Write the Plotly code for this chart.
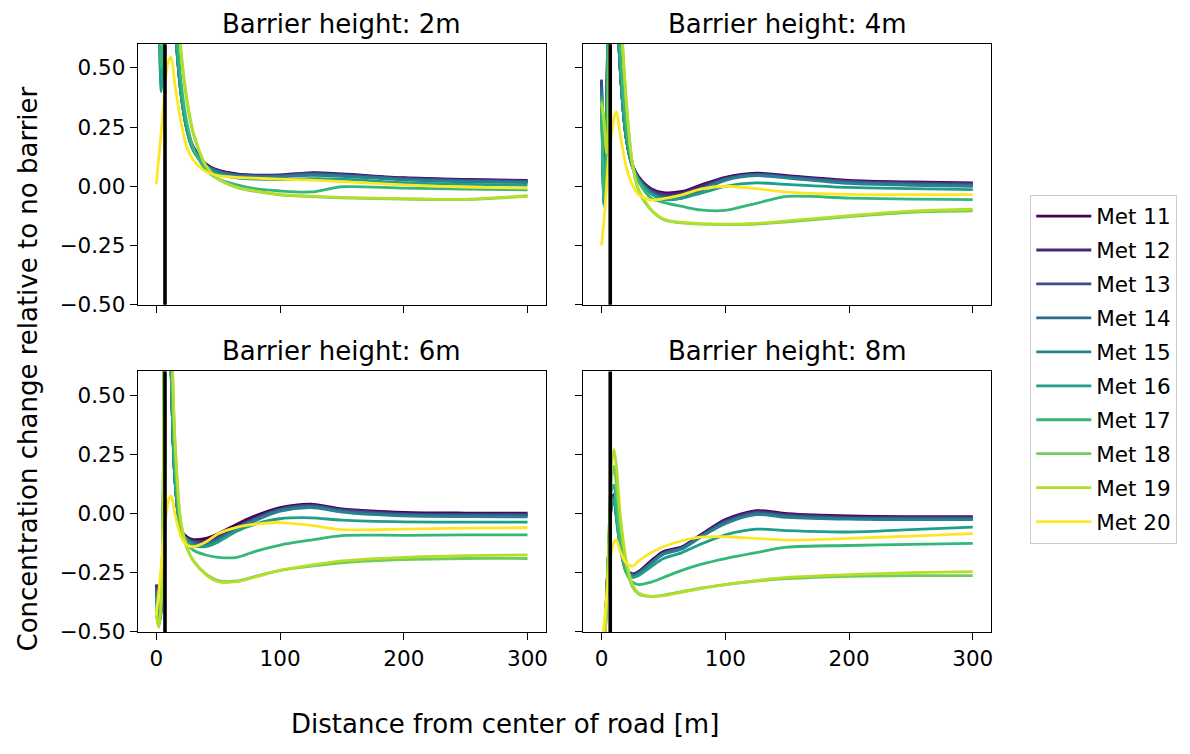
import plotly.graph_objects as go

# ---------------- data ----------------
distance = [0, 2, 4, 5.5, 8, 10, 12, 15, 20, 25, 30, 40, 50, 65, 80, 100, 125, 150, 200, 250, 300]
met_labels = ["Met 11", "Met 12", "Met 13", "Met 14", "Met 15",
              "Met 16", "Met 17", "Met 18", "Met 19", "Met 20"]
met_colors = ["#440154", "#482878", "#3e4989", "#31688e", "#26828e",
              "#1f9e89", "#35b779", "#6ece58", "#b5de2b", "#fde725"]
panel_titles = ["Barrier height: 2m", "Barrier height: 4m",
                "Barrier height: 6m", "Barrier height: 8m"]
barrier_x = 7
y_ticks = [-0.5, -0.25, 0.0, 0.25, 0.5]
x_ticks = [0, 100, 200, 300]

height_2m = [
    [0.95, 0.85, 0.62, 0.75, 1.80, 1.50, 1.10, 0.72, 0.40, 0.24, 0.165, 0.095, 0.068, 0.052, 0.047, 0.048, 0.057, 0.052, 0.036, 0.029, 0.025],
    [0.93, 0.82, 0.58, 0.72, 1.80, 1.50, 1.10, 0.71, 0.395, 0.238, 0.162, 0.092, 0.066, 0.050, 0.045, 0.046, 0.055, 0.050, 0.034, 0.027, 0.023],
    [0.90, 0.78, 0.52, 0.66, 1.80, 1.50, 1.10, 0.71, 0.39, 0.235, 0.158, 0.090, 0.064, 0.048, 0.044, 0.045, 0.053, 0.048, 0.032, 0.025, 0.021],
    [0.88, 0.74, 0.47, 0.60, 1.80, 1.50, 1.10, 0.70, 0.388, 0.232, 0.155, 0.088, 0.062, 0.046, 0.042, 0.043, 0.050, 0.045, 0.030, 0.022, 0.018],
    [0.86, 0.70, 0.42, 0.55, 1.80, 1.50, 1.10, 0.70, 0.385, 0.230, 0.152, 0.085, 0.060, 0.044, 0.040, 0.040, 0.046, 0.042, 0.027, 0.019, 0.015],
    [0.85, 0.68, 0.40, 0.52, 1.80, 1.50, 1.10, 0.70, 0.39, 0.232, 0.150, 0.080, 0.052, 0.036, 0.030, 0.028, 0.032, 0.030, 0.015, 0.008, 0.005],
    [0.90, 0.75, 0.50, 0.62, 1.90, 1.60, 1.20, 0.78, 0.44, 0.26, 0.160, 0.070, 0.032, 0.006, -0.010, -0.020, -0.024, -0.002, -0.008, -0.012, -0.015],
    [0.95, 0.85, 0.60, 0.75, 2.00, 1.80, 1.50, 0.98, 0.56, 0.35, 0.22, 0.085, 0.030, -0.005, -0.022, -0.036, -0.044, -0.049, -0.054, -0.056, -0.042],
    [0.95, 0.85, 0.60, 0.75, 2.00, 1.80, 1.50, 1.00, 0.57, 0.36, 0.225, 0.088, 0.032, -0.004, -0.020, -0.034, -0.042, -0.047, -0.052, -0.055, -0.040],
    [0.01, 0.12, 0.23, 0.32, 0.48, 0.53, 0.545, 0.43, 0.27, 0.16, 0.11, 0.062, 0.045, 0.038, 0.034, 0.030, 0.026, 0.020, 0.006, -0.003, -0.008],
]

height_4m = [
    [0.44, -0.04, 0.30, 0.90, 1.80, 1.40, 0.90, 0.50, 0.20, 0.09, 0.04, -0.010, -0.027, -0.022, 0.005, 0.038, 0.055, 0.045, 0.025, 0.018, 0.014],
    [0.45, -0.05, 0.28, 0.88, 1.80, 1.40, 0.90, 0.50, 0.20, 0.088, 0.036, -0.015, -0.032, -0.028, 0.000, 0.035, 0.052, 0.042, 0.022, 0.015, 0.011],
    [0.45, -0.06, 0.26, 0.86, 1.80, 1.40, 0.90, 0.50, 0.20, 0.085, 0.033, -0.020, -0.040, -0.038, -0.010, 0.030, 0.050, 0.040, 0.020, 0.012, 0.008],
    [0.42, -0.07, 0.24, 0.84, 1.80, 1.40, 0.90, 0.50, 0.20, 0.083, 0.030, -0.025, -0.048, -0.045, -0.015, 0.030, 0.048, 0.038, 0.016, 0.008, 0.004],
    [0.40, -0.08, 0.22, 0.82, 1.80, 1.40, 0.90, 0.50, 0.20, 0.080, 0.027, -0.030, -0.055, -0.050, -0.020, 0.025, 0.045, 0.035, 0.012, 0.004, 0.000],
    [0.38, -0.08, 0.20, 0.80, 1.80, 1.40, 0.90, 0.50, 0.20, 0.080, 0.025, -0.032, -0.055, -0.050, -0.030, 0.000, 0.014, 0.008, -0.005, -0.010, -0.014],
    [0.37, -0.05, 0.15, 0.70, 1.90, 1.50, 1.00, 0.58, 0.25, 0.09, 0.020, -0.050, -0.068, -0.085, -0.100, -0.102, -0.072, -0.043, -0.050, -0.054, -0.056],
    [0.36, 0.28, 0.15, 0.25, 2.00, 1.70, 1.30, 0.80, 0.35, 0.09, -0.02, -0.100, -0.140, -0.155, -0.160, -0.162, -0.160, -0.150, -0.128, -0.110, -0.104],
    [0.35, 0.27, 0.14, 0.25, 2.00, 1.70, 1.30, 0.82, 0.36, 0.095, -0.015, -0.098, -0.138, -0.153, -0.158, -0.160, -0.157, -0.146, -0.124, -0.105, -0.097],
    [-0.25, -0.14, 0.00, 0.11, 0.22, 0.29, 0.315, 0.22, 0.08, 0.005, -0.035, -0.058, -0.052, -0.036, -0.012, 0.000, -0.010, -0.025, -0.034, -0.035, -0.035],
]

height_6m = [
    [-0.30, -0.44, -0.38, 0.00, 2.00, 1.20, 0.60, 0.15, -0.070, -0.100, -0.110, -0.105, -0.085, -0.045, -0.010, 0.025, 0.040, 0.020, 0.005, 0.002, 0.002],
    [-0.30, -0.45, -0.39, -0.02, 2.00, 1.20, 0.60, 0.15, -0.072, -0.105, -0.115, -0.115, -0.095, -0.055, -0.018, 0.020, 0.035, 0.017, 0.000, -0.003, -0.003],
    [-0.31, -0.45, -0.40, -0.03, 2.00, 1.20, 0.60, 0.15, -0.075, -0.108, -0.120, -0.125, -0.105, -0.060, -0.022, 0.017, 0.032, 0.013, -0.003, -0.006, -0.006],
    [-0.32, -0.46, -0.40, -0.04, 2.00, 1.20, 0.60, 0.15, -0.078, -0.110, -0.125, -0.130, -0.110, -0.062, -0.025, 0.015, 0.030, 0.010, -0.006, -0.009, -0.010],
    [-0.33, -0.46, -0.41, -0.05, 2.00, 1.20, 0.60, 0.15, -0.080, -0.112, -0.130, -0.135, -0.115, -0.068, -0.030, 0.010, 0.025, 0.006, -0.010, -0.013, -0.014],
    [-0.35, -0.47, -0.41, -0.05, 2.00, 1.20, 0.60, 0.15, -0.080, -0.115, -0.135, -0.140, -0.120, -0.075, -0.045, -0.022, -0.018, -0.028, -0.035, -0.036, -0.036],
    [-0.40, -0.47, -0.35, 0.10, 2.00, 1.30, 0.70, 0.20, -0.070, -0.130, -0.155, -0.175, -0.185, -0.185, -0.160, -0.133, -0.112, -0.093, -0.092, -0.090, -0.090],
    [-0.42, -0.48, -0.36, 0.05, 2.20, 1.50, 0.85, 0.30, -0.050, -0.150, -0.200, -0.255, -0.283, -0.285, -0.265, -0.240, -0.222, -0.208, -0.195, -0.190, -0.190],
    [-0.43, -0.48, -0.36, 0.05, 2.20, 1.50, 0.86, 0.32, -0.040, -0.145, -0.200, -0.258, -0.288, -0.288, -0.268, -0.240, -0.218, -0.200, -0.185, -0.178, -0.175],
    [-0.43, -0.33, -0.22, -0.13, 0.00, 0.06, 0.075, 0.00, -0.10, -0.135, -0.140, -0.120, -0.085, -0.058, -0.045, -0.038, -0.050, -0.068, -0.066, -0.062, -0.060],
]

height_8m = [
    [-0.90, -0.60, -0.35, -0.18, 0.05, 0.08, 0.00, -0.12, -0.235, -0.255, -0.245, -0.200, -0.160, -0.140, -0.090, -0.025, 0.012, 0.000, -0.010, -0.013, -0.013],
    [-0.90, -0.60, -0.35, -0.18, 0.05, 0.08, 0.00, -0.12, -0.238, -0.258, -0.248, -0.205, -0.165, -0.142, -0.093, -0.030, 0.008, -0.004, -0.014, -0.016, -0.016],
    [-0.92, -0.62, -0.36, -0.18, 0.04, 0.07, -0.01, -0.13, -0.240, -0.260, -0.250, -0.208, -0.168, -0.145, -0.096, -0.034, 0.004, -0.008, -0.018, -0.020, -0.020],
    [-0.92, -0.62, -0.36, -0.18, 0.04, 0.07, -0.01, -0.13, -0.242, -0.262, -0.253, -0.210, -0.170, -0.147, -0.098, -0.038, 0.000, -0.012, -0.021, -0.023, -0.023],
    [-0.93, -0.63, -0.37, -0.18, 0.03, 0.06, -0.02, -0.14, -0.245, -0.265, -0.255, -0.212, -0.172, -0.150, -0.100, -0.043, -0.005, -0.016, -0.024, -0.026, -0.026],
    [-0.93, -0.63, -0.37, -0.18, 0.03, 0.06, -0.02, -0.14, -0.250, -0.270, -0.262, -0.225, -0.190, -0.165, -0.130, -0.090, -0.066, -0.072, -0.078, -0.068, -0.057],
    [-0.95, -0.65, -0.38, -0.18, 0.10, 0.12, 0.02, -0.13, -0.250, -0.290, -0.300, -0.290, -0.270, -0.240, -0.215, -0.190, -0.165, -0.142, -0.135, -0.130, -0.126],
    [-0.95, -0.65, -0.38, -0.18, 0.15, 0.20, 0.12, -0.05, -0.220, -0.310, -0.340, -0.350, -0.345, -0.330, -0.315, -0.300, -0.285, -0.275, -0.265, -0.262, -0.262],
    [-0.95, -0.65, -0.38, -0.18, 0.20, 0.27, 0.20, 0.00, -0.200, -0.300, -0.335, -0.350, -0.347, -0.332, -0.317, -0.300, -0.283, -0.270, -0.258, -0.250, -0.245],
    [-0.58, -0.47, -0.36, -0.28, -0.16, -0.12, -0.113, -0.16, -0.210, -0.222, -0.200, -0.165, -0.140, -0.115, -0.100, -0.098, -0.105, -0.112, -0.105, -0.095, -0.085],
]

panels = [height_2m, height_4m, height_6m, height_8m]

# ---------------- layout geometry (pixels of a 1190x754 canvas) ----------------
W, H = 1190, 754
col_px = [(138, 547), (584, 993)]
row_px = [(45, 310), (378, 643)]
FONT = "DejaVu Sans"

fig = go.Figure()

for p, series in enumerate(panels):
    ax = "" if p == 0 else str(p + 1)
    for i, vals in enumerate(series):
        fig.add_trace(go.Scatter(
            x=distance, y=vals, mode="lines",
            line=dict(color=met_colors[i], width=2.8, shape="spline", smoothing=0.8),
            name=met_labels[i], legendgroup=met_labels[i],
            showlegend=(p == 0),
            xaxis="x" + ax, yaxis="y" + ax,
        ))
    fig.add_shape(type="line", xref="x" + ax, yref="y" + ax + " domain",
                  x0=barrier_x, x1=barrier_x, y0=0, y1=1,
                  line=dict(color="black", width=3.6), layer="above")

axis_common = dict(
    showline=True, mirror=True, linecolor="black", linewidth=1.2,
    ticks="outside", ticklen=7, tickwidth=1.2, tickcolor="black",
    showgrid=False, zeroline=False,
    tickfont=dict(family=FONT, size=21.5, color="black"),
)

layout_axes = {}
annotations = []
for p in range(4):
    r, c = divmod(p, 2)
    x0, x1 = col_px[c]
    y0, y1 = row_px[r]
    ax = "" if p == 0 else str(p + 1)
    layout_axes["xaxis" + ax] = dict(
        axis_common, domain=[x0 / W, x1 / W], range=[-15, 315],
        tickvals=x_ticks, showticklabels=(r == 1), anchor="y" + ax,
    )
    layout_axes["yaxis" + ax] = dict(
        axis_common, domain=[1 - y1 / H, 1 - y0 / H], range=[-0.5, 0.6],
        tickvals=y_ticks, tickformat=".2f", showticklabels=(c == 0), anchor="x" + ax,
    )
    annotations.append(dict(
        text=panel_titles[p], xref="paper", yref="paper",
        x=(x0 + x1) / 2 / W, y=1 - (y0 - 21) / H, xanchor="center", yanchor="middle",
        showarrow=False, font=dict(family=FONT, size=26, color="black"),
    ))

annotations.append(dict(
    text="Concentration change relative to no barrier", xref="paper", yref="paper",
    x=28 / W, y=1 - 375 / H, textangle=-90, xanchor="center", yanchor="middle",
    showarrow=False, font=dict(family=FONT, size=26, color="black"),
))
annotations.append(dict(
    text="Distance from center of road [m]", xref="paper", yref="paper",
    x=506 / W, y=1 - 737 / H, xanchor="center", yanchor="middle",
    showarrow=False, font=dict(family=FONT, size=26, color="black"),
))

fig.update_layout(
    width=W, height=H,
    margin=dict(l=0, r=0, t=0, b=0),
    paper_bgcolor="white", plot_bgcolor="white",
    font=dict(family=FONT, color="black"),
    annotations=annotations,
    showlegend=True,
    legend=dict(
        x=1032 / W, y=1 - 198 / H, xanchor="left", yanchor="top",
        bordercolor="#cccccc", borderwidth=1, bgcolor="white",
        font=dict(family=FONT, size=21.5, color="black"),
        tracegroupgap=3, traceorder="grouped", itemwidth=55,
    ),
    **layout_axes,
)

fig.write_html("out.html")
